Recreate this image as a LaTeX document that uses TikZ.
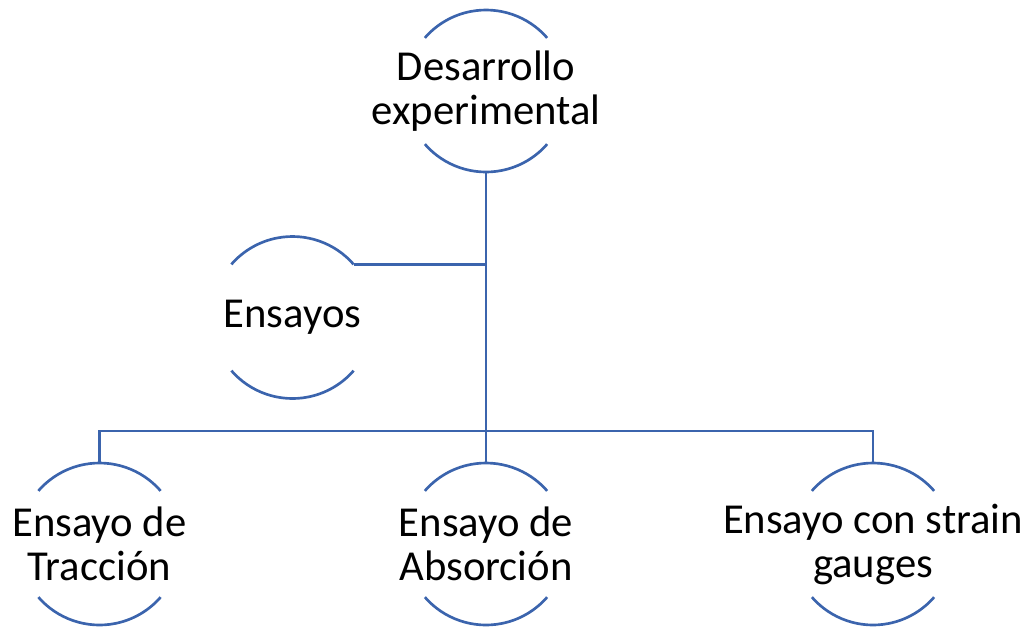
\documentclass[tikz,border=0pt]{standalone}
\usepackage{fontspec}
\setmainfont{Carlito}
\definecolor{linkblue}{RGB}{59,100,173}

\tikzset{every picture/.style={line width=2pt}}
\tikzset{
  bubble/.style={inner sep=0pt, outer sep=0pt,
    align=center, font=\fontsize{32}{33}\selectfont},
  link/.style={draw=linkblue, line width=2pt}
}

\begin{document}
\begin{tikzpicture}[x=0.75pt,y=0.75pt,yscale=-1,xscale=1]
\useasboundingbox (0,0) rectangle (1031,626);

% Nodes
\node [bubble] (desa) at (486,91) {Desarrollo\\experimental};
\node [bubble] (ens) at (292.5,317.5) {Ensayos};
\node [bubble] (trac) at (99.5,544) {Ensayo de\\Tracción};
\node [bubble] (abs) at (486,544) {Ensayo de\\Absorción};
\node [bubble] (strain) at (873,544) {Ensayo con strain\\gauges};

% Arcs of the circles (radius 81)
\foreach \n in {desa,ens,trac,abs,strain}{
  \coordinate (\n-top) at ([shift={(0,-81)}]\n.center);
  \coordinate (\n-bot) at ([shift={(0,81)}]\n.center);
  \coordinate (\n-ne) at ([shift={(-41:81)}]\n.center);
  \draw [link] (\n-ne) arc[start angle=-41, end angle=-139, radius=81];
  \draw [link] ([shift={(-221:81)}]\n.center) arc[start angle=-221, end angle=-319, radius=81];
}

% Connectors
\coordinate (bus) at (486,431);
\draw [link] (desa-bot) -- (abs-top);
\draw [link] (ens-ne) -- (ens-ne -| desa-bot);
\draw [link] (trac-top) -- (trac-top |- bus) -- (strain-top |- bus) -- (strain-top);

\end{tikzpicture}
\end{document}
